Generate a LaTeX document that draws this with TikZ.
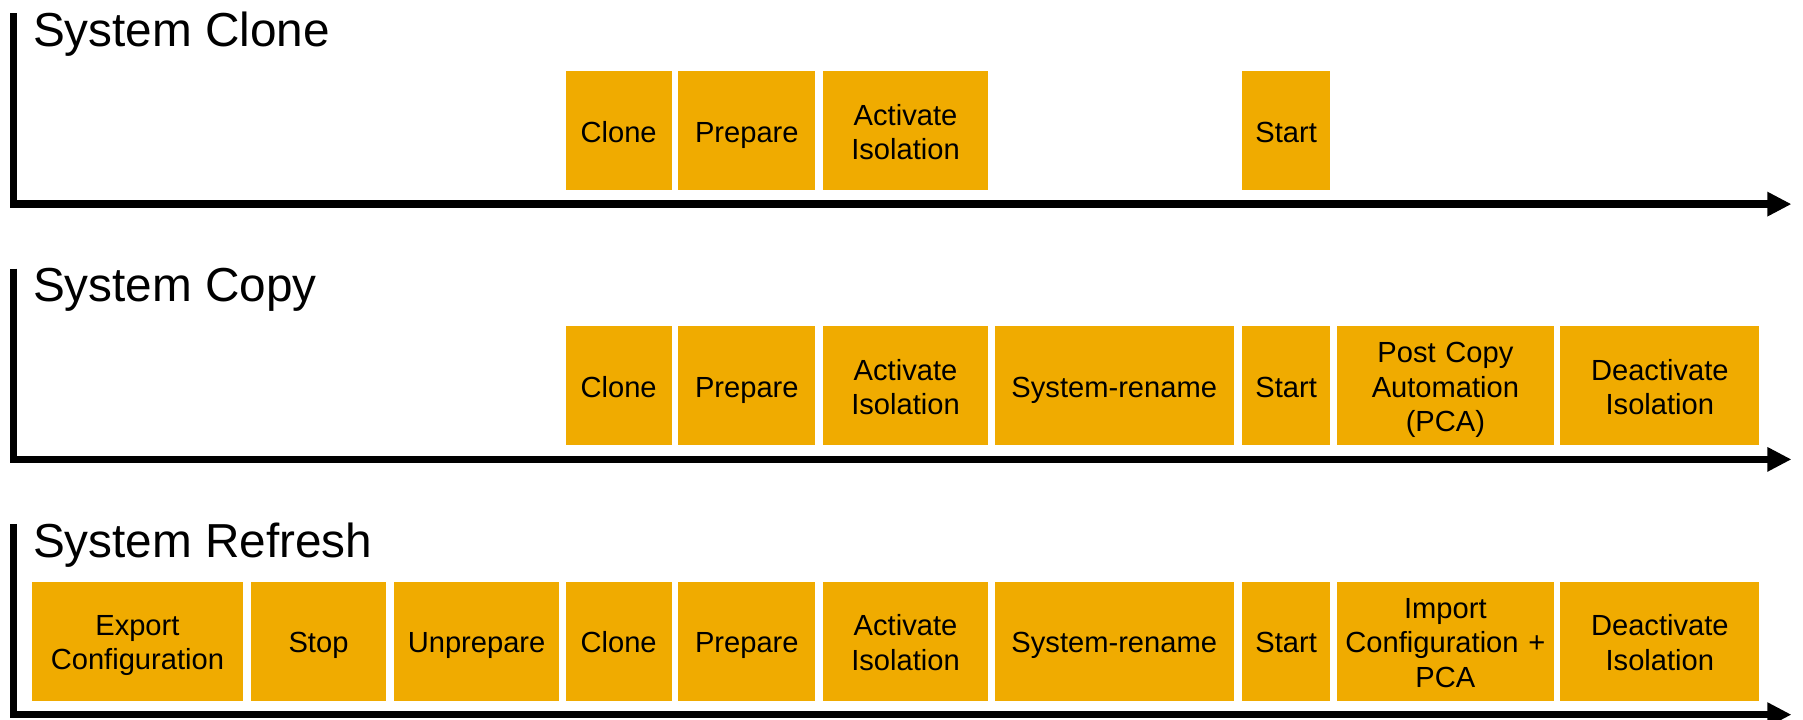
\documentclass[tikz,border=0pt]{standalone}
\usepackage{fontspec}
\setmainfont{Liberation Sans}
\usepackage{tikz}
\usetikzlibrary{arrows.meta,positioning}
\definecolor{sapgold}{RGB}{240,171,0}
\newcommand\topstrut{\rule{0pt}{7.2pt}}
\newcommand\botstrut{\rule[-1.3pt]{0pt}{1.3pt}}

\begin{document}
\begin{tikzpicture}[x=0.01cm,y=-0.01cm,
    task/.style={fill=sapgold, inner sep=0pt, minimum height=1.034cm, align=center,
                 font=\fontsize{7.2}{8.5}\selectfont,
                 execute at begin node=\topstrut, execute at end node=\botstrut},
    title/.style={anchor=base west, inner sep=0pt, font=\fontsize{11.8}{13}\selectfont},
    axis/.style={line width=0.065cm, miter limit=10, -{Triangle[length=0.21cm,width=0.2cm]}}]
    \useasboundingbox (0,0) rectangle (1568,626);

    % System Clone
    \node[title] (t1) at (28,40.6) {System Clone};
    \draw[axis] (11.7,11.6) -- (11.7,177.5) -- (1558,177.5);
    \node[task, text width=0.92cm]  (clone1) at (538,113.5) {Clone};
    \node[task, text width=1.19cm]  (prep1)  at (649.5,113.5) {Prepare};
    \node[task, text width=1.43cm]  (iso1)   at (787.5,113.5) {Activate\\Isolation};
    \node[task, text width=0.77cm]  (start1) at (1118.5,113.5) {Start};

    % System Copy
    \begin{scope}[shift={(0,222)}]
    \node[title] (t2) at (28,40.6) {System Copy};
    \draw[axis] (11.7,11.6) -- (11.7,177.5) -- (1558,177.5);
    \node[task, text width=0.92cm]  (clone2)  at (538,113.5) {Clone};
    \node[task, text width=1.19cm]  (prep2)   at (649.5,113.5) {Prepare};
    \node[task, text width=1.43cm]  (iso2)    at (787.5,113.5) {Activate\\Isolation};
    \node[task, text width=2.08cm]  (rename2) at (969,113.5) {System-rename};
    \node[task, text width=0.77cm]  (start2)  at (1118.5,113.5) {Start};
    \node[task, text width=1.88cm]  (pca2)    at (1257,113.5) {Post Copy\\Automation\\(PCA)};
    \node[task, text width=1.73cm]  (deiso2)  at (1443.5,113.5) {Deactivate\\Isolation};
    \end{scope}

    % System Refresh
    \begin{scope}[shift={(0,444)}]
    \node[title] (t3) at (28,40.6) {System Refresh};
    \draw[axis] (11.7,11.6) -- (11.7,177.5) -- (1558,177.5);
    \node[task, text width=1.83cm]  (export3) at (119.5,113.5) {Export\\Configuration};
    \node[task, text width=1.18cm]  (stop3)   at (277,113.5) {Stop};
    \node[task, text width=1.43cm]  (unprep3) at (414.5,113.5) {Unprepare};
    \node[task, text width=0.92cm]  (clone3)  at (538,113.5) {Clone};
    \node[task, text width=1.19cm]  (prep3)   at (649.5,113.5) {Prepare};
    \node[task, text width=1.43cm]  (iso3)    at (787.5,113.5) {Activate\\Isolation};
    \node[task, text width=2.08cm]  (rename3) at (969,113.5) {System-rename};
    \node[task, text width=0.77cm]  (start3)  at (1118.5,113.5) {Start};
    \node[task, text width=1.88cm]  (import3) at (1257,113.5) {Import\\Configuration +\\PCA};
    \node[task, text width=1.73cm]  (deiso3)  at (1443.5,113.5) {Deactivate\\Isolation};
    \end{scope}
\end{tikzpicture}
\end{document}
